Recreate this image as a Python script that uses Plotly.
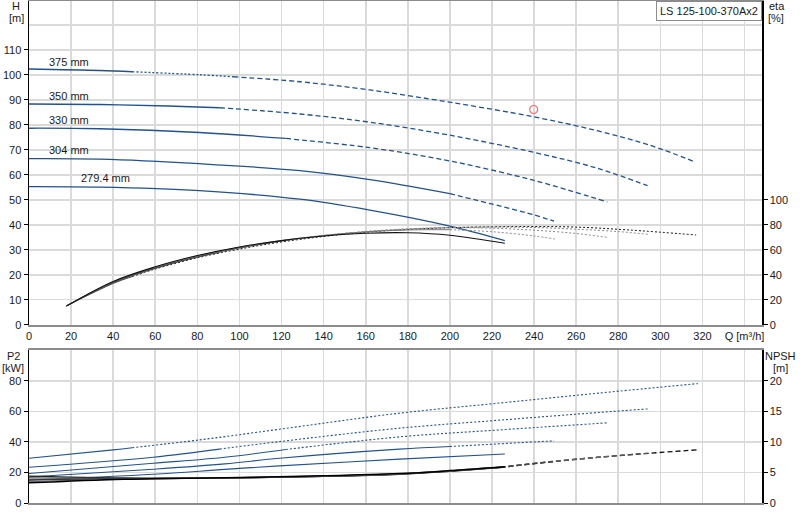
import plotly.graph_objects as go

# ---------------- Data ----------------
# Head curves H [m] vs Q [m3/h]
q_h375 = [0, 33.6, 49, 81, 97, 128.7, 162, 200, 239.6, 270, 295, 316.8]
h_375 = [102.3, 101.7, 101.2, 100.0, 99.2, 97.2, 93.9, 89.0, 83.2, 77.6, 71.8, 65.0]
q_h350 = [0, 33.6, 66, 90.6, 128.7, 162, 200, 239.6, 270, 293.9]
h_350 = [88.3, 88.1, 87.5, 86.8, 84.3, 81.0, 75.8, 69.0, 62.6, 55.6]
q_h330 = [0, 33.6, 81, 122, 162, 200, 239.6, 274.8]
h_330 = [78.6, 78.4, 76.9, 74.5, 70.8, 65.5, 57.8, 49.1]
q_h304 = [0, 33.6, 81, 128.7, 162, 200, 239.6, 249.5]
h_304 = [66.4, 66.2, 64.4, 61.6, 58.0, 52.4, 44.0, 41.4]
q_h279 = [0, 33.6, 81, 128.7, 162, 200, 226.1]
h_279 = [55.2, 55.0, 53.6, 50.2, 45.8, 39.4, 33.6]

# Efficiency curves eta [%]
q_e375 = [17.8, 40, 49, 60, 80, 100, 120, 140, 160, 180, 200, 220, 240, 260, 285, 317]
e_375 = [15, 33.0, 38.5, 44.5, 53.5, 60.5, 66.2, 70.6, 74.0, 76.2, 77.6, 78.3, 78.5, 78.1, 75.8, 71.8]
q_e350 = [17.8, 40, 60, 80, 90.6, 100, 120, 140, 160, 180, 200, 220, 240, 260, 280, 294.2]
e_350 = [15, 33.5, 45.0, 54.0, 57.8, 61.2, 66.8, 71.2, 74.4, 76.6, 77.8, 78.2, 77.8, 76.4, 74.5, 72.3]
q_e330 = [17.8, 40, 60, 80, 100, 122, 140, 160, 180, 200, 220, 240, 260, 274.4]
e_330 = [15, 34.0, 45.5, 54.5, 61.5, 67.6, 71.4, 74.6, 76.6, 77.5, 77.2, 75.6, 73.0, 69.9]
q_e304 = [17.8, 40, 60, 80, 100, 120, 140, 160, 180, 200, 220, 240, 249.9]
e_304 = [15, 34.3, 46.0, 55.0, 62.0, 67.4, 71.4, 74.3, 75.8, 76.0, 74.4, 71.0, 68.6]
q_e279 = [17.8, 40, 60, 80, 100, 120, 140, 160, 180, 200, 226.1]
e_279 = [15, 34.6, 46.3, 55.3, 62.2, 67.3, 71.0, 73.2, 73.6, 71.6, 65.1]

# Power P2 [kW]
q_p375 = [0, 40, 49, 81, 119, 176, 224, 271, 317.8]
p_375 = [29.3, 34.8, 36.2, 41.3, 48.3, 58.8, 65.5, 72.0, 78.2]
q_p350 = [0, 59, 90.6, 119, 176, 224, 271, 293.9]
p_350 = [23.4, 30.0, 35.3, 40.2, 49.0, 54.3, 59.3, 61.6]
q_p330 = [0, 59, 93, 122, 176, 224, 274.9]
p_330 = [19.3, 26.0, 30.0, 35.0, 43.3, 47.9, 52.5]
q_p304 = [0, 59, 93, 119, 176, 200, 249.5]
p_304 = [17.0, 22.1, 25.6, 29.3, 35.3, 37.0, 40.7]
q_p279 = [0, 59, 93, 119, 176, 226.1]
p_279 = [15.0, 18.8, 22.0, 24.3, 28.7, 32.1]

# NPSH [m]
q_n375 = [0, 45, 93, 140, 176, 200, 224, 247, 271, 295, 317.5]
n_375 = [4.4, 4.1, 4.1, 4.35, 4.7, 5.2, 5.8, 6.7, 7.5, 8.15, 8.7]
q_n350 = [0, 45, 93, 140, 176, 200, 224, 247, 271, 294]
n_350 = [4.1, 4.0, 4.1, 4.35, 4.72, 5.22, 5.82, 6.72, 7.52, 8.12]
q_n330 = [0, 45, 93, 140, 176, 200, 224, 247, 275]
n_330 = [3.8, 3.95, 4.1, 4.38, 4.75, 5.25, 5.85, 6.75, 7.6]
q_n304 = [0, 45, 93, 140, 176, 200, 224, 249.5]
n_304 = [3.5, 3.9, 4.1, 4.4, 4.78, 5.28, 5.88, 6.8]
q_n279 = [0, 45, 93, 140, 176, 200, 226.1]
n_279 = [3.3, 3.9, 4.15, 4.45, 4.82, 5.3, 5.95]

# Duty point
duty_q = [239.8]
duty_h = [86.1]

# Labels
curve_labels = ["375 mm", "350 mm", "330 mm", "304 mm", "279.4 mm"]
label_q = [8.4, 8.4, 8.4, 8.4, 23.6]
label_h = [105.1, 91.5, 81.9, 69.9, 58.7]

x_ticks = list(range(0, 341, 20))
x_ticktext = [str(v) for v in range(0, 321, 20)] + ["Q [m³/h]"]
h_ticks = list(range(0, 111, 10))
eta_ticks = list(range(0, 101, 20))
p2_ticks = list(range(0, 81, 20))
npsh_ticks = list(range(0, 21, 5))

title_box = "LS 125-100-370Ax2"

# ---------------- Figure ----------------
BLUE = "#23528a"
GRID = "#dadada"
FONT = "Liberation Sans, Arial, sans-serif"
DASH = "5px,3px"
DOT = "2px,2px"

fig = go.Figure()


def seg(q, v, a, b):
    idx = [i for i, x in enumerate(q) if a <= x <= b]
    return [q[i] for i in idx], [v[i] for i in idx]


def add(q, v, parts, xa, ya, color, width):
    for a, b, dash, col in parts:
        xs, ys = seg(q, v, a, b)
        fig.add_trace(go.Scatter(
            x=xs, y=ys, mode="lines",
            line=dict(color=col or color, width=width, dash=dash, shape="spline", smoothing=1.0),
            xaxis=xa, yaxis=ya, hoverinfo="skip", showlegend=False))


# Head
add(q_h375, h_375, [(0, 49, "solid", None), (49, 97, DOT, None), (97, 999, DASH, None)], "x", "y", BLUE, 1.3)
add(q_h350, h_350, [(0, 90.6, "solid", None), (90.6, 999, DASH, None)], "x", "y", BLUE, 1.3)
add(q_h330, h_330, [(0, 122, "solid", None), (122, 999, DASH, None)], "x", "y", BLUE, 1.3)
add(q_h304, h_304, [(0, 200, "solid", None), (200, 999, DASH, None)], "x", "y", BLUE, 1.3)
add(q_h279, h_279, [(0, 999, "solid", None)], "x", "y", BLUE, 1.3)

# Efficiency
add(q_e375, e_375, [(0, 49, "solid", "#444"), (49, 999, DOT, "#111")], "x", "y2", "#111", 1.0)
add(q_e350, e_350, [(0, 90.6, "solid", "#555"), (90.6, 999, DOT, "#888")], "x", "y2", "#888", 1.0)
add(q_e330, e_330, [(0, 122, "solid", "#333"), (122, 999, DOT, "#888")], "x", "y2", "#888", 1.0)
add(q_e304, e_304, [(0, 200, "solid", "#777"), (200, 999, DOT, "#888")], "x", "y2", "#888", 1.0)
add(q_e279, e_279, [(0, 999, "solid", "#111")], "x", "y2", "#111", 1.1)

# Power P2
add(q_p375, p_375, [(0, 49, "solid", None), (49, 999, DOT, None)], "x2", "y3", BLUE, 1.1)
add(q_p350, p_350, [(0, 90.6, "solid", None), (90.6, 999, DOT, None)], "x2", "y3", BLUE, 1.1)
add(q_p330, p_330, [(0, 122, "solid", None), (122, 999, DOT, None)], "x2", "y3", BLUE, 1.1)
add(q_p304, p_304, [(0, 200, "solid", None), (200, 999, DOT, None)], "x2", "y3", BLUE, 1.1)
add(q_p279, p_279, [(0, 999, "solid", None)], "x2", "y3", BLUE, 1.1)

# NPSH
add(q_n375, n_375, [(0, 224, "solid", "#222"), (224, 999, DASH, "#111")], "x2", "y4", "#111", 1.3)
add(q_n350, n_350, [(0, 224, "solid", "#555"), (224, 999, DASH, "#555")], "x2", "y4", "#111", 1.3)
add(q_n330, n_330, [(0, 224, "solid", "#333"), (224, 999, DASH, "#666")], "x2", "y4", "#111", 1.3)
add(q_n304, n_304, [(0, 224, "solid", "#777"), (224, 999, DASH, "#444")], "x2", "y4", "#111", 1.3)
add(q_n279, n_279, [(0, 999, "solid", "#000")], "x2", "y4", "#111", 1.5)

# Duty point
fig.add_trace(go.Scatter(x=duty_q, y=duty_h, mode="markers",
                         marker=dict(symbol="circle-open", size=8, color="#ee6b6b", line=dict(width=1.2)),
                         xaxis="x", yaxis="y", hoverinfo="skip", showlegend=False))

tickfont = dict(family=FONT, size=11, color="#1a1a1a")

fig.update_layout(
    width=800, height=520,
    margin=dict(l=29, r=38, t=1, b=17, autoexpand=False),
    paper_bgcolor="white", plot_bgcolor="white",
    showlegend=False,
    font=dict(family=FONT, size=11, color="#1a1a1a"),
    xaxis=dict(domain=[0, 1], range=[0, 348.3], anchor="y", automargin=False,
               tickmode="array", tickvals=x_ticks, ticktext=x_ticktext,
               showgrid=True, gridcolor=GRID, gridwidth=1.6, zeroline=False,
               showline=True, linecolor="#8c8c8c", linewidth=2, mirror=True,
               ticks="", tickfont=tickfont),
    yaxis=dict(domain=[0.3552, 1], range=[0, 129.5], anchor="x", automargin=False,
               tickmode="array", tickvals=h_ticks,
               showgrid=True, gridcolor=GRID, gridwidth=1.6, zeroline=False,
               minor=dict(tickvals=[120], showgrid=True, gridcolor=GRID, gridwidth=1.6, ticks=""),
               showline=True, linecolor="#000", linewidth=1.5,
               ticks="outside", ticklen=4, tickcolor="#000", tickfont=tickfont),
    yaxis2=dict(overlaying="y", side="right", range=[0, 259], anchor="x", automargin=False,
                tickmode="array", tickvals=eta_ticks, showgrid=False, zeroline=False,
                showline=True, linecolor="#000", linewidth=1.5,
                ticks="outside", ticklen=4, tickcolor="#000", tickfont=tickfont),
    xaxis2=dict(domain=[0, 1], range=[0, 348.3], anchor="y3", automargin=False,
                tickmode="array", tickvals=x_ticks, showticklabels=False,
                showgrid=True, gridcolor=GRID, gridwidth=1.6, zeroline=False,
                showline=True, linecolor="#8c8c8c", linewidth=2, mirror=True, ticks=""),
    yaxis3=dict(domain=[0, 0.3042], range=[0, 100], anchor="x2", automargin=False,
                tickmode="array", tickvals=p2_ticks,
                showgrid=True, gridcolor=GRID, gridwidth=1.6, zeroline=False,
                showline=True, linecolor="#000", linewidth=1.5,
                ticks="outside", ticklen=4, tickcolor="#000", tickfont=tickfont),
    yaxis4=dict(overlaying="y3", side="right", range=[0, 25], anchor="x2", automargin=False,
                tickmode="array", tickvals=npsh_ticks, showgrid=False, zeroline=False,
                showline=True, linecolor="#000", linewidth=1.5,
                ticks="outside", ticklen=4, tickcolor="#000", tickfont=tickfont),
)

ann = []
for txt, q, h in zip(curve_labels, label_q, label_h):
    ann.append(dict(x=q, y=h, xref="x", yref="y", text=txt, showarrow=False,
                    xanchor="left", yanchor="middle", font=dict(family=FONT, size=11, color="#1a1a1a")))


def pa(text, px, py, xanchor="center"):
    return dict(x=(px - 29) / 733, y=(503 - py) / 502, xref="paper", yref="paper", text=text,
                showarrow=False, xanchor=xanchor, yanchor="middle",
                font=dict(family=FONT, size=11, color="#1a1a1a"))


ann += [pa("H", 16, 6), pa("[m]", 16, 18), pa("eta", 777, 6), pa("[%]", 776, 18),
        pa("P2", 13, 356), pa("[kW]", 13, 368), pa("NPSH", 780, 356), pa("[m]", 780, 368)]
ann.append(dict(x=1.0, y=1.0, xref="paper", yref="paper", text=title_box, showarrow=False,
                xanchor="right", yanchor="top", bgcolor="white", bordercolor="#8c8c8c",
                borderwidth=1, borderpad=3, font=dict(family=FONT, size=11, color="#1a1a1a")))
fig.update_layout(annotations=ann)

fig.write_html("out.html", config={"displayModeBar": False, "staticPlot": True},
               post_script="document.body.style.margin='0px';document.body.style.overflow='hidden';")
